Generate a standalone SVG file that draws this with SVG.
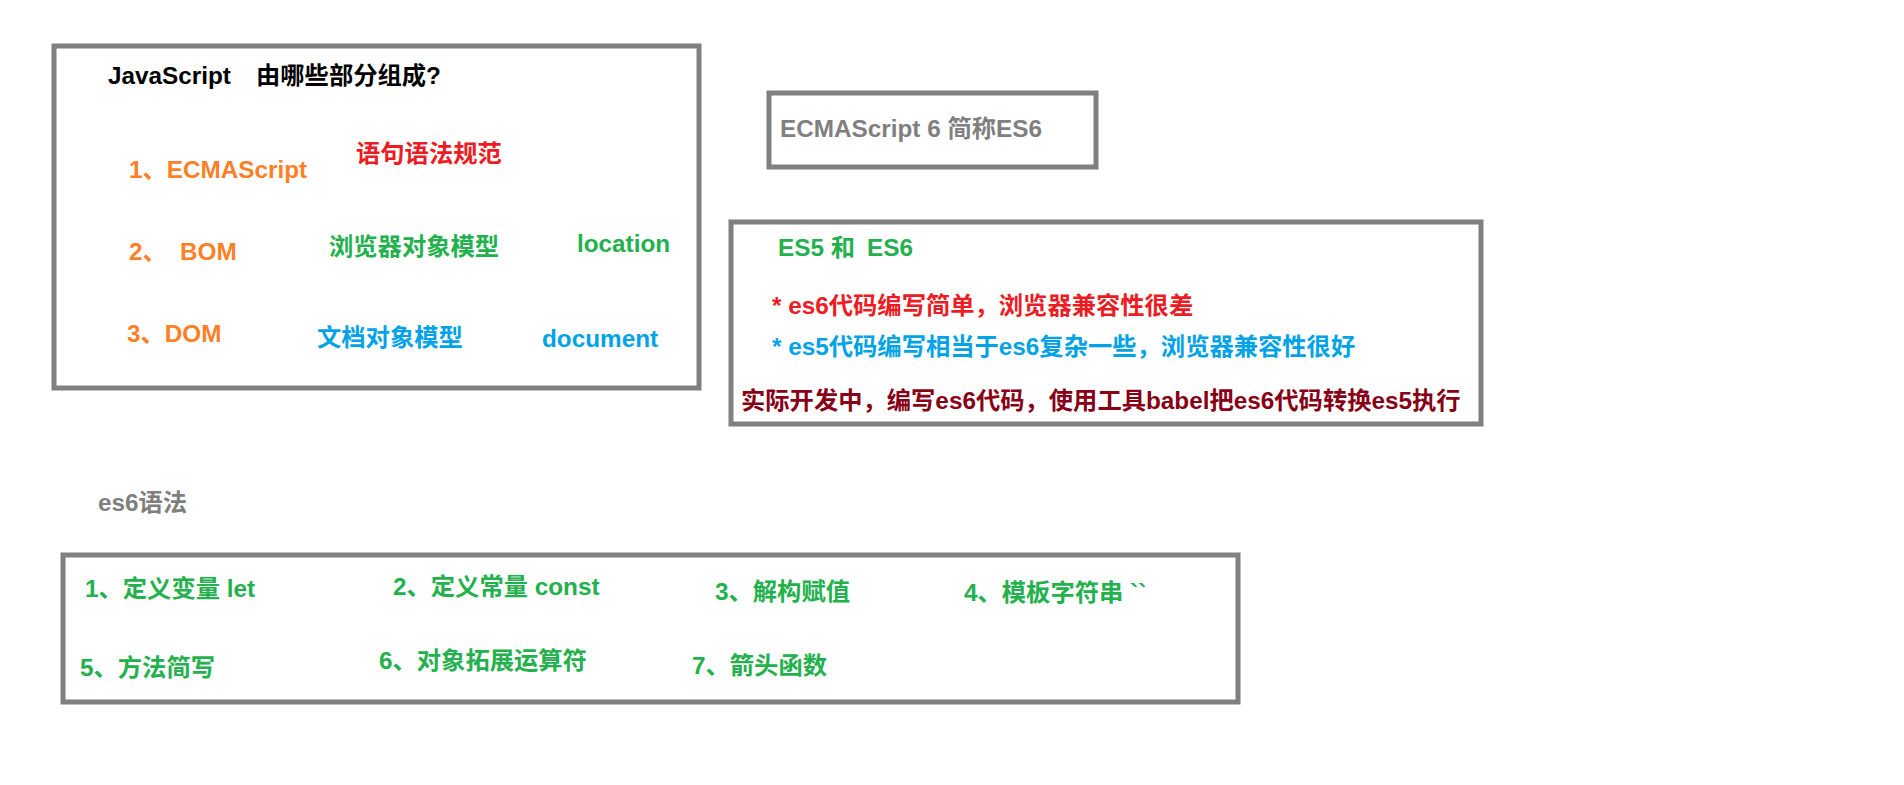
<svg xmlns="http://www.w3.org/2000/svg" width="1904" height="785" viewBox="0 0 1904 785">
<style>
text{font-family:"Liberation Sans","Noto Sans CJK SC",sans-serif;font-weight:bold;font-size:24.3px}
.box{fill:#fff;stroke:#808080;stroke-width:5}
.k{fill:#000}.o{fill:#ff7f27}.r{fill:#ed1c24}.g{fill:#22b14c}.b{fill:#00a2e8}.gr{fill:#7f7f7f}.dr{fill:#880015}
</style>
<rect width="1904" height="785" fill="#fff"/>
<g id="js-parts">
<rect class="box" x="54" y="46" width="645" height="342"/>
<text class="k" x="108" y="84">JavaScript<tspan x="256">由哪些部分组成?</tspan></text>
<text class="o" x="129" y="178">1、ECMAScript</text>
<text class="r" x="356" y="162">语句语法规范</text>
<text class="o" x="129" y="260">2、<tspan x="180">BOM</tspan></text>
<text class="g" x="329" y="255">浏览器对象模型</text>
<text class="g" x="577" y="252">location</text>
<text class="o" x="127" y="342">3、DOM</text>
<text class="b" x="317" y="346">文档对象模型</text>
<text class="b" x="542" y="347">document</text>
</g>
<g id="es6-name">
<rect class="box" x="769" y="93" width="327" height="74"/>
<text class="gr" x="780" y="137">ECMAScript 6 简称ES6</text>
</g>
<g id="es5-es6">
<rect class="box" x="731" y="222" width="750" height="202"/>
<text class="g" x="778" y="256">ES5 和<tspan x="867">ES6</tspan></text>
<text class="r" x="772" y="314">* es6代码编写简单，浏览器兼容性很差</text>
<text class="b" x="772" y="355">* es5代码编写相当于es6复杂一些，浏览器兼容性很好</text>
<text class="dr" x="741" y="409">实际开发中，编写es6代码，使用工具babel把es6代码转换es5执行</text>
</g>
<text class="gr" x="98" y="511">es6语法</text>
<g id="es6-syntax">
<rect class="box" x="63" y="555" width="1175" height="147"/>
<text class="g" x="85" y="597">1、定义变量 let</text>
<text class="g" x="393" y="595">2、定义常量 const</text>
<text class="g" x="715" y="600">3、解构赋值</text>
<text class="g" x="964" y="601">4、模板字符串 ``</text>
<text class="g" x="80" y="676">5、方法简写</text>
<text class="g" x="379" y="669">6、对象拓展运算符</text>
<text class="g" x="692" y="674">7、箭头函数</text>
</g>
</svg>
